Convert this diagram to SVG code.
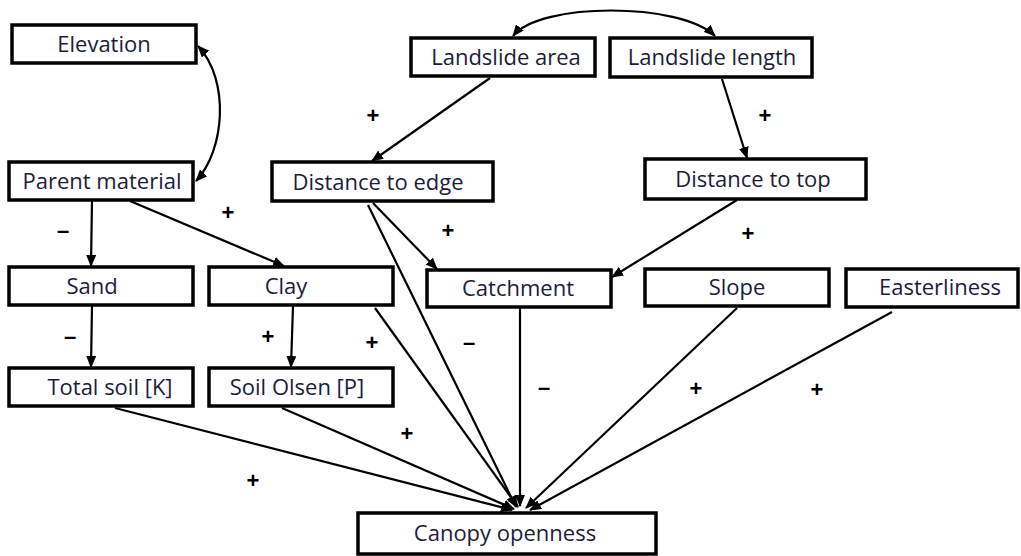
<svg xmlns="http://www.w3.org/2000/svg" width="1021" height="556" viewBox="0 0 1021 556">
<style>
.box{fill:#fff;stroke:#000;stroke-width:3.5}
.t{font-family:"Open Sans","Liberation Sans",sans-serif;font-size:22px;fill:#1c1c3a;text-anchor:middle}
.c{fill:none;stroke:#000;stroke-width:2.2}
.s{font-family:"Liberation Sans",Arial,sans-serif;font-size:22px;font-weight:bold;fill:#000;text-anchor:middle}
</style>
<defs>
<marker id="ah" markerUnits="userSpaceOnUse" markerWidth="12" markerHeight="10" refX="11" refY="5" orient="auto-start-reverse">
<path d="M0,0 L12,5 L0,10 Z" fill="#000"/>
</marker>
</defs>
<rect width="1021" height="556" fill="#fff"/>
<g id="connectors">
<path class="c" d="M198,46 C230,80 225,150 196,181" marker-start="url(#ah)" marker-end="url(#ah)"/>
<path class="c" d="M513,36 C540,2 680,2 715,36" marker-start="url(#ah)" marker-end="url(#ah)"/>
<line class="c" x1="490" y1="78" x2="372" y2="161" marker-end="url(#ah)"/>
<line class="c" x1="722" y1="79" x2="747" y2="158" marker-end="url(#ah)"/>
<line class="c" x1="92" y1="201" x2="91" y2="266" marker-end="url(#ah)"/>
<line class="c" x1="130" y1="201" x2="284" y2="266" marker-end="url(#ah)"/>
<line class="c" x1="92" y1="306" x2="91" y2="367" marker-end="url(#ah)"/>
<line class="c" x1="293" y1="306" x2="291" y2="367" marker-end="url(#ah)"/>
<line class="c" x1="373" y1="203" x2="437" y2="269" marker-end="url(#ah)"/>
<line class="c" x1="737" y1="200" x2="612" y2="277" marker-end="url(#ah)"/>
<line class="c" x1="115" y1="408" x2="512" y2="510" marker-end="url(#ah)"/>
<line class="c" x1="282" y1="408" x2="514" y2="509" marker-end="url(#ah)"/>
<line class="c" x1="368" y1="205" x2="516" y2="507" marker-end="url(#ah)"/>
<line class="c" x1="375" y1="308" x2="518" y2="507" marker-end="url(#ah)"/>
<line class="c" x1="520" y1="308" x2="520" y2="506" marker-end="url(#ah)"/>
<line class="c" x1="737" y1="308" x2="526" y2="508" marker-end="url(#ah)"/>
<line class="c" x1="892" y1="312" x2="530" y2="510" marker-end="url(#ah)"/>
</g>
<g id="elevation"><rect class="box" x="12" y="25" width="184" height="38"/><text class="t" x="104" y="52">Elevation</text></g>
<g id="parent-material"><rect class="box" x="9" y="162" width="184" height="38"/><text class="t" x="102" y="189">Parent material</text></g>
<g id="landslide-area"><rect class="box" x="411" y="38" width="184" height="38"/><text class="t" x="506" y="65">Landslide area</text></g>
<g id="landslide-length"><rect class="box" x="610" y="38" width="202" height="39"/><text class="t" x="712" y="65">Landslide length</text></g>
<g id="distance-to-edge"><rect class="box" x="272" y="162" width="221" height="39"/><text class="t" x="378" y="190">Distance to edge</text></g>
<g id="distance-to-top"><rect class="box" x="645" y="159" width="221" height="40"/><text class="t" x="753" y="187">Distance to top</text></g>
<g id="sand"><rect class="box" x="9" y="267" width="184" height="38"/><text class="t" x="92" y="294">Sand</text></g>
<g id="clay"><rect class="box" x="209" y="267" width="184" height="38"/><text class="t" x="286" y="294">Clay</text></g>
<g id="catchment"><rect class="box" x="427" y="270" width="184" height="37"/><text class="t" x="518" y="296">Catchment</text></g>
<g id="slope"><rect class="box" x="645" y="269" width="184" height="37"/><text class="t" x="737" y="295">Slope</text></g>
<g id="easterliness"><rect class="box" x="846" y="269" width="172" height="38"/><text class="t" x="940" y="295">Easterliness</text></g>
<g id="total-soil-k"><rect class="box" x="9" y="368" width="184" height="38"/><text class="t" x="110" y="395">Total soil [K]</text></g>
<g id="soil-olsen-p"><rect class="box" x="209" y="368" width="184" height="38"/><text class="t" x="297" y="395">Soil Olsen [P]</text></g>
<g id="canopy-openness"><rect class="box" x="358" y="513" width="298" height="41"/><text class="t" x="505" y="541">Canopy openness</text></g>
<g id="signs">
<text class="s" x="228" y="220">+</text>
<text class="s" x="63" y="238">–</text>
<text class="s" x="70" y="344">–</text>
<text class="s" x="268" y="344">+</text>
<text class="s" x="373" y="123">+</text>
<text class="s" x="765" y="123">+</text>
<text class="s" x="448" y="238">+</text>
<text class="s" x="748" y="241">+</text>
<text class="s" x="372" y="350">+</text>
<text class="s" x="469" y="350">–</text>
<text class="s" x="544" y="395">–</text>
<text class="s" x="696" y="396">+</text>
<text class="s" x="817" y="397">+</text>
<text class="s" x="407" y="441">+</text>
<text class="s" x="253" y="488">+</text>
</g>
</svg>
